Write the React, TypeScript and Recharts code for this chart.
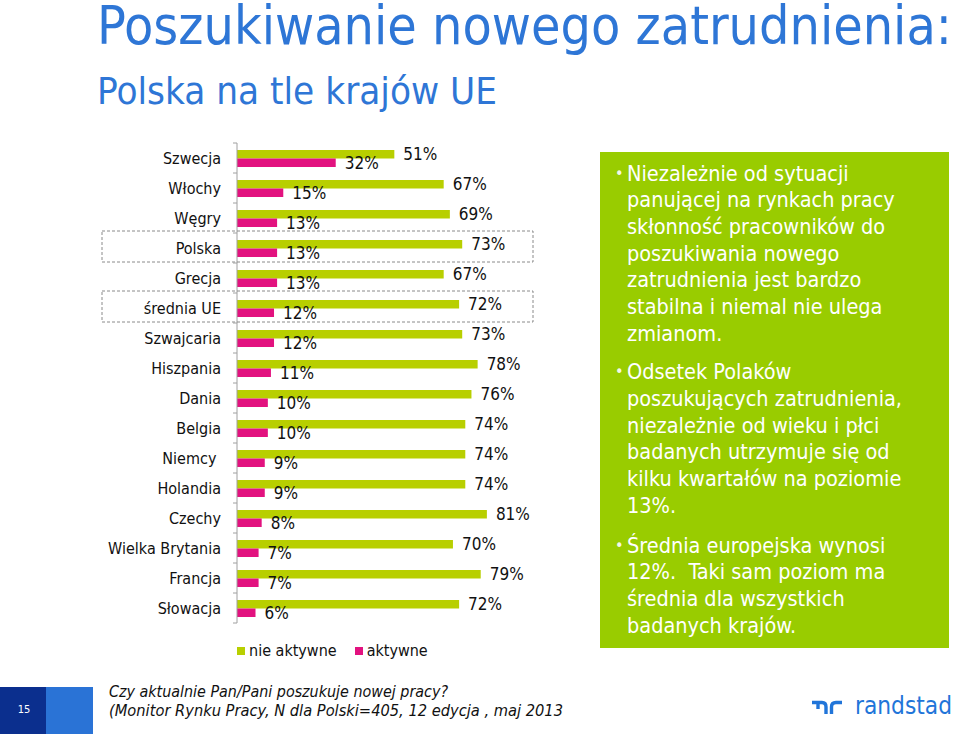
import React from 'react';
import { BarChart, Bar, XAxis, YAxis, Legend, LabelList } from 'recharts';

const categories = ['Szwecja', 'Włochy', 'Węgry', 'Polska', 'Grecja', 'średnia UE', 'Szwajcaria', 'Hiszpania', 'Dania', 'Belgia', 'Niemcy\u00a0', 'Holandia', 'Czechy', 'Wielka Brytania', 'Francja', 'Słowacja'];
const nieAktywne = [51, 67, 69, 73, 67, 72, 73, 78, 76, 74, 74, 74, 81, 70, 79, 72];
const aktywne = [32, 15, 13, 13, 13, 12, 12, 11, 10, 10, 9, 9, 8, 7, 7, 6];
const highlighted = ['Polska', 'średnia UE'];

const seriesOrder = ['nie aktywne', 'aktywne'];
const GREEN = '#b8cf00';
const PINK = '#e2127f';
const FONT = "'DejaVu Sans Condensed', 'DejaVu Sans', sans-serif";

const data = categories.map((name, i) => ({ name, nie: nieAktywne[i], akt: aktywne[i] }));

const bullets = [
  ['Niezależnie od sytuacji', 'panującej na rynkach pracy', 'skłonność pracowników do', 'poszukiwania nowego', 'zatrudnienia jest bardzo', 'stabilna i niemal nie ulega', 'zmianom.'],
  ['Odsetek Polaków', 'poszukujących zatrudnienia,', 'niezależnie od wieku i płci', 'badanych utrzymuje się od', 'kilku kwartałów na poziomie', '13%.'],
  ['Średnia europejska wynosi', '12%.  Taki sam poziom ma', 'średnia dla wszystkich', 'badanych krajów.'],
];

const CategoryTick = (props: any) => {
  const { x, y, payload, index } = props;
  const half = payload && payload.offset ? payload.offset : 15;
  const isHi = highlighted.includes(String(payload.value).trim());
  return (
    <g>
      {isHi && (
        <rect x={x - 135} y={y - 17} width={431} height={31} fill="none" stroke="#8a8a8a" strokeWidth={1} strokeDasharray="3 2" />
      )}
      <line x1={x - 4} x2={x} y1={y - half} y2={y - half} stroke="#a0a0a0" strokeWidth={1} />
      {index === categories.length - 1 && (
        <line x1={x - 4} x2={x} y1={y + half} y2={y + half} stroke="#a0a0a0" strokeWidth={1} />
      )}
      <text x={x - 16} y={y} textAnchor="end" dominantBaseline="central" fontSize={16} fontFamily={FONT} fill="#111" style={{ whiteSpace: 'pre' }}>
        {payload.value}
      </text>
    </g>
  );
};

const LegendContent = (props: any) => {
  const items = [...(props.payload || [])].sort((a: any, b: any) => seriesOrder.indexOf(a.value) - seriesOrder.indexOf(b.value));
  return (
    <div style={{ height: 38, position: 'relative', fontFamily: FONT, fontSize: 16, color: '#111' }}>
      <div style={{ position: 'absolute', top: 18, left: 237, display: 'flex', alignItems: 'center', whiteSpace: 'nowrap' }}>
        {items.map((p: any, i: number) => (
          <div key={i} style={{ display: 'flex', alignItems: 'center', marginRight: 18 }}>
            <span style={{ display: 'inline-block', width: 8, height: 8, background: p.color, marginRight: 4 }} />
            <span>{p.value}</span>
          </div>
        ))}
      </div>
    </div>
  );
};

export default function App() {
  const lineH = 26.67;
  const paraStarts = [173.3, 371.7, 545];
  return (
    <div style={{ position: 'absolute', left: 0, top: 0, width: 960, height: 734, background: '#fff', overflow: 'hidden' }}>
      <svg width={960} height={734} style={{ position: 'absolute', left: 0, top: 0 }}>
        <text x={97} y={44} fontSize={54} fontFamily={FONT} fill="#2e76d6" textLength={855} lengthAdjust="spacingAndGlyphs">
          Poszukiwanie nowego zatrudnienia:
        </text>
        <text x={97} y={104} fontSize={38} fontFamily={FONT} fill="#2e76d6" textLength={400} lengthAdjust="spacingAndGlyphs">
          Polska na tle krajów UE
        </text>
        <rect x={600} y={152} width={349} height={496} fill="#99cc00" />
        {bullets.map((para, pi) => (
          <g key={pi}>
            <text x={615} y={paraStarts[pi]} dominantBaseline="central" fontSize={16} fontFamily={FONT} fill="#f4f8e6">•</text>
            {para.map((line, li) => (
              <text key={li} x={627} y={paraStarts[pi] + li * lineH} dominantBaseline="central" fontSize={21.5} fontFamily={FONT} fill="#fff" style={{ whiteSpace: 'pre' }}>
                {line}
              </text>
            ))}
          </g>
        ))}
        <rect x={0} y={687} width={46} height={47} fill="#0b2f8e" />
        <rect x={46} y={687} width={47} height={47} fill="#2a73d6" />
        <text x={24} y={709} textAnchor="middle" dominantBaseline="central" fontSize={11} fontFamily={FONT} fill="#fff">15</text>
        <text x={109} y={697} fontSize={16.5} fontStyle="italic" fontFamily={FONT} fill="#111" textLength={339} lengthAdjust="spacingAndGlyphs">
          Czy aktualnie Pan/Pani poszukuje nowej pracy?
        </text>
        <text x={109} y={716} fontSize={16.5} fontStyle="italic" fontFamily={FONT} fill="#111" textLength={454} lengthAdjust="spacingAndGlyphs" style={{ whiteSpace: 'pre' }}>
          (Monitor Rynku Pracy, N dla Polski=405, 12 edycja , maj 2013
        </text>
        <g stroke="#2175d9" strokeWidth={3.4} fill="none" strokeLinecap="butt">
          <path d="M812 702.5 H822 Q826 702.5 826 707 V714" />
          <path d="M818 702.5 V709" />
          <path d="M831.5 714 V707 Q831.5 702.5 836 702.5 H842" />
        </g>
        <text x={855} y={714} fontSize={24} fontFamily={FONT} fill="#2175d9" textLength={97} lengthAdjust="spacingAndGlyphs">
          randstad
        </text>
      </svg>
      <div style={{ position: 'absolute', left: 0, top: 0 }}>
        <BarChart
          width={600}
          height={680}
          data={data}
          layout="vertical"
          margin={{ top: 143, right: 54.5, left: 0, bottom: 19 }}
          barGap={0}
          barSize={8.5}
        >
          <XAxis type="number" domain={[0, 100]} hide />
          <YAxis
            type="category"
            dataKey="name"
            width={237}
            axisLine={{ stroke: '#a0a0a0' }}
            tickLine={false}
            tickSize={0}
            tickMargin={0}
            interval={0}
            tick={<CategoryTick />}
          />
          <Legend verticalAlign="bottom" align="left" content={<LegendContent />} />
          <Bar dataKey="nie" name="nie aktywne" fill={GREEN} isAnimationActive={false}>
            <LabelList dataKey="nie" position="right" offset={9} formatter={(v: any) => `${v}%`} fill="#111" fontSize={17} fontFamily={FONT} />
          </Bar>
          <Bar dataKey="akt" name="aktywne" fill={PINK} isAnimationActive={false}>
            <LabelList dataKey="akt" position="right" offset={9} formatter={(v: any) => `${v}%`} fill="#111" fontSize={17} fontFamily={FONT} />
          </Bar>
        </BarChart>
      </div>
    </div>
  );
}
